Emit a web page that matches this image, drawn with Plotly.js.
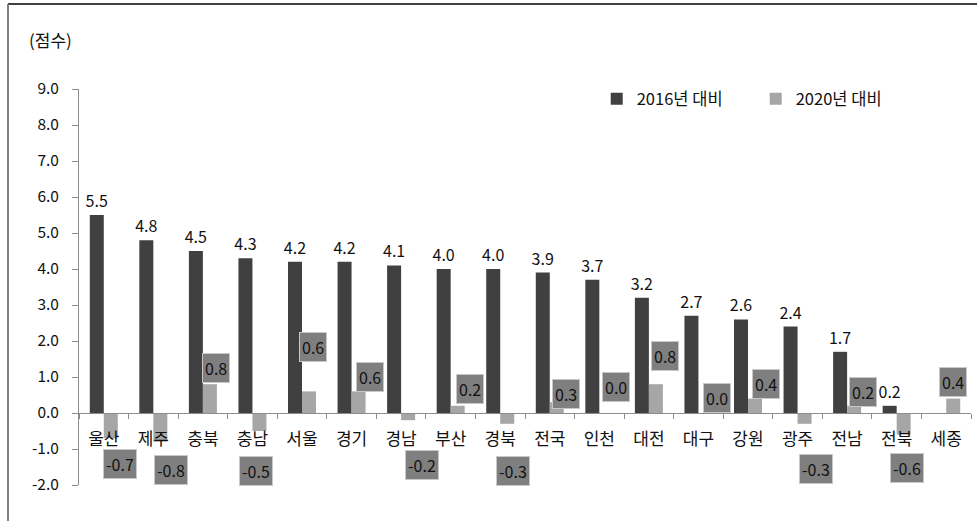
<!DOCTYPE html>
<html>
<head>
<meta charset="utf-8">
<script src="https://cdn.plot.ly/plotly-3.0.1.min.js"></script>
<style>html,body{margin:0;padding:0;background:#fff;}#chart{width:977px;height:521px;}</style>
</head>
<body>
<div id="chart"></div>
<script>
// ---- data ----
var regions = ['울산','제주','충북','충남','서울','경기','경남','부산','경북','전국','인천','대전','대구','강원','광주','전남','전북','세종'];
var vs2016 = [5.5, 4.8, 4.5, 4.3, 4.2, 4.2, 4.1, 4.0, 4.0, 3.9, 3.7, 3.2, 2.7, 2.6, 2.4, 1.7, 0.2, null];
var vs2020 = [-0.7, -0.8, 0.8, -0.5, 0.6, 0.6, -0.2, 0.2, -0.3, 0.3, 0.0, 0.8, 0.0, 0.4, -0.3, 0.2, -0.6, 0.4];
var seriesNames = ['2016년 대비', '2020년 대비'];
var yTicks = [-2, -1, 0, 1, 2, 3, 4, 5, 6, 7, 8, 9];

// ---- layout-only: manual placement of the 2020 label boxes ----
var boxY  = [-1.43, -1.57, 1.25, -1.61, 1.83, 1.0, -1.44, 0.67, -1.61, 0.54, 0.72, 1.58, 0.42, 0.81, -1.56, 0.58, -1.53, 0.86];
var boxDX = [16, 18, 13, 4, 11, 18, 21, 19, 13, 16, 17, 16, 19, 18, 18, 16, 10, 7];

var FONT = '"Noto Sans CJK KR", "Noto Sans", sans-serif';
var TXT = '#111111';

var traces = [
  {
    type: 'bar', name: seriesNames[0], x: regions, y: vs2016,
    marker: {color: '#404040'},
    text: vs2016.map(function(v){ return v === null ? '' : v.toFixed(1); }),
    textposition: 'outside', cliponaxis: false, constraintext: 'none',
    textfont: {family: FONT, size: 16, color: TXT},
    hoverinfo: 'x+y'
  },
  {
    type: 'bar', name: seriesNames[1], x: regions, y: vs2020,
    marker: {color: '#a6a6a6'},
    hoverinfo: 'x+y'
  }
];

var annotations = vs2020.map(function(v, i){
  return {
    xref: 'x', yref: 'y', x: regions[i], y: boxY[i], xshift: boxDX[i],
    text: v.toFixed(1), showarrow: false,
    bgcolor: '#7f7f7f', bordercolor: '#c8c8c8', borderwidth: 1, borderpad: 2,
    font: {family: FONT, size: 16, color: TXT},
    xanchor: 'center', yanchor: 'middle'
  };
});
annotations.push({
  xref: 'paper', yref: 'paper', x: -0.058, y: 1.125, xanchor: 'left', yanchor: 'middle',
  text: '(점수)', showarrow: false, font: {family: FONT, size: 17, color: TXT}
});

var layout = {
  width: 977, height: 521, autosize: false,
  margin: {l: 79, r: 6, t: 89, b: 36, pad: 0},
  paper_bgcolor: '#ffffff', plot_bgcolor: '#ffffff',
  font: {family: FONT, size: 15, color: TXT},
  barmode: 'group', bargap: 0.435, bargroupgap: 0,
  showlegend: true,
  legend: {orientation: 'h', x: 0.5804, y: 0.975, xanchor: 'left', yanchor: 'middle',
           font: {family: FONT, size: 16.5, color: TXT}, entrywidth: 114, entrywidthmode: 'pixels',
           itemwidth: 30, bgcolor: 'rgba(0,0,0,0)'},
  xaxis: {
    type: 'category', anchor: 'free', position: 2/11,
    showline: true, linecolor: '#8c8c8c', linewidth: 1,
    ticks: 'outside', tickson: 'boundaries', ticklen: 5, tickcolor: '#8c8c8c',
    showgrid: false, zeroline: false, fixedrange: true,
    tickfont: {family: FONT, size: 17, color: TXT}, ticklabelstandoff: 11
  },
  yaxis: {
    range: [-2, 9], tickvals: yTicks, ticktext: yTicks.map(function(t){ return t.toFixed(1); }),
    showline: true, linecolor: '#8c8c8c', linewidth: 1,
    ticks: 'outside', ticklen: 6, tickcolor: '#8c8c8c',
    showgrid: false, zeroline: false, fixedrange: true,
    tickfont: {family: FONT, size: 15.5, color: TXT}, ticklabelstandoff: 10
  },
  annotations: annotations,
  shapes: [
    {type: 'line', xref: 'paper', yref: 'paper', x0: -0.0796, x1: 1.01, y0: 1.2146, y1: 1.2146,
     line: {color: '#000000', width: 1.5}},
    {type: 'line', xref: 'paper', yref: 'paper', x0: -0.0796, x1: -0.0796, y0: 1.2146, y1: -0.1,
     line: {color: '#7f7f7f', width: 2}}
  ]
};

Plotly.newPlot('chart', traces, layout, {displayModeBar: false, staticPlot: true});
</script>
</body>
</html>
